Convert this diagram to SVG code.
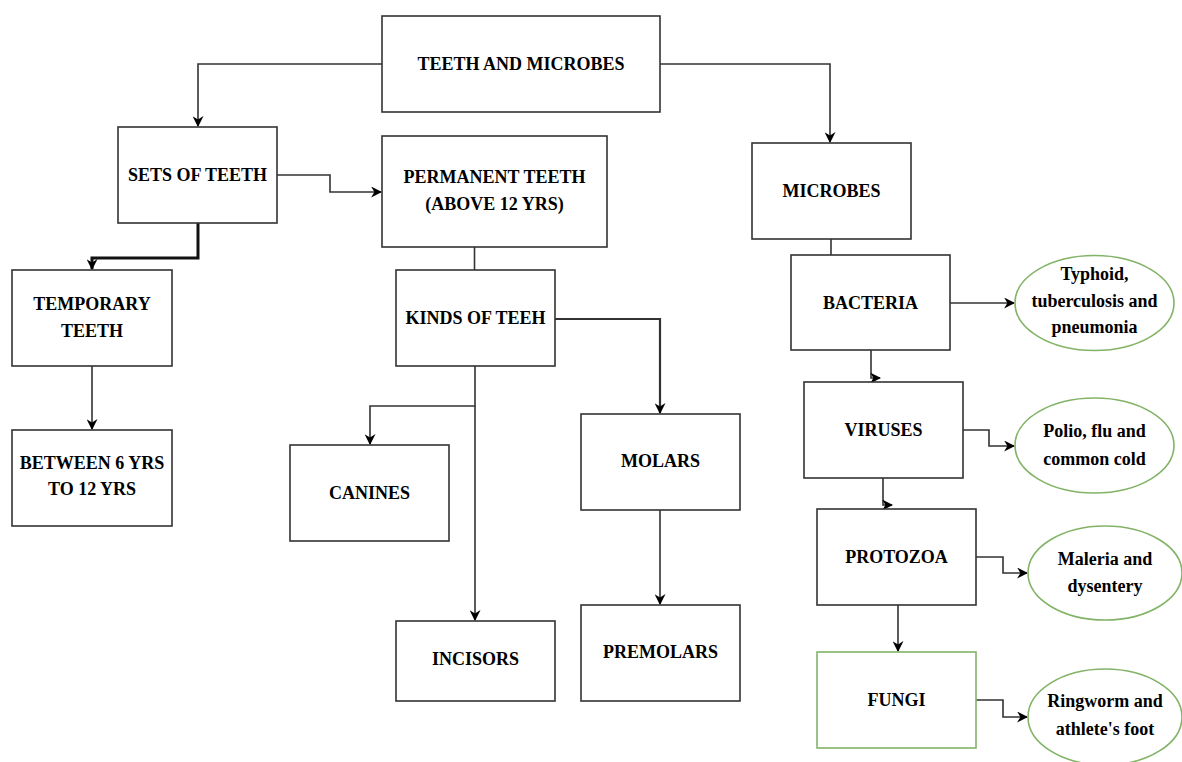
<svg xmlns="http://www.w3.org/2000/svg" width="1182" height="762" viewBox="0 0 1182 762">
<style>
.box{fill:#fff;stroke:#333;stroke-width:1.6}
.gbox{fill:#fff;stroke:#82b366;stroke-width:1.6}
.ell{fill:#fff;stroke:#82b366;stroke-width:1.6}
.t{font-family:"Liberation Serif","Times New Roman",serif;font-weight:bold;font-size:18px;fill:#000;text-anchor:middle}
.c{fill:none;stroke:#333;stroke-width:1.6}
</style>
<defs>
<marker id="a" viewBox="0 0 10 10" refX="9" refY="5" markerWidth="11" markerHeight="11" markerUnits="userSpaceOnUse" orient="auto">
<path d="M0,0 L10,5 L0,10 L3,5 z" fill="#000"/>
</marker>
</defs>
<rect width="1182" height="762" fill="#fff"/>
<g id="connectors">
<path class="c" d="M382,64 H198 V126" marker-end="url(#a)"/>
<path class="c" d="M660,64 H830 V142" marker-end="url(#a)"/>
<path class="c" d="M277,175 H330 V192 H381" marker-end="url(#a)"/>
<path class="c" d="M474.5,247 V270"/>
<path class="c" style="stroke-width:3;stroke:#111" d="M198,223 V258 H92 V269" marker-end="url(#a)"/>
<path class="c" d="M92,366 V429" marker-end="url(#a)"/>
<path class="c" d="M475,366 V406 H370 V444" marker-end="url(#a)"/>
<path class="c" d="M475,406 V620" marker-end="url(#a)"/>
<path class="c" style="stroke-width:2.2" d="M555,319 H660 V413" marker-end="url(#a)"/>
<path class="c" d="M660,510 V604" marker-end="url(#a)"/>
<path class="c" d="M831,239 V255"/>
<path class="c" d="M950,303 H1014" marker-end="url(#a)"/>
<path class="c" d="M871,350 V378 H880" marker-end="url(#a)"/>
<path class="c" d="M963,430 H989 V446 H1014" marker-end="url(#a)"/>
<path class="c" d="M883,478 V505 H892" marker-end="url(#a)"/>
<path class="c" d="M976,557 H1003 V573 H1027" marker-end="url(#a)"/>
<path class="c" d="M898,605 V651" marker-end="url(#a)"/>
<path class="c" d="M976,700 H1003 V717 H1027" marker-end="url(#a)"/>
</g>
<g id="n-teeth-microbes"><rect class="box" x="382" y="16" width="278" height="96"/><text class="t" x="521" y="70">TEETH AND MICROBES</text></g>
<g id="n-sets"><rect class="box" x="118" y="127" width="159" height="96"/><text class="t" x="197.5" y="181">SETS OF TEETH</text></g>
<g id="n-permanent"><rect class="box" x="382" y="136" width="225" height="111"/><text class="t" x="494.5" y="183">PERMANENT TEETH</text><text class="t" x="494.5" y="210">(ABOVE 12 YRS)</text></g>
<g id="n-microbes"><rect class="box" x="752" y="143" width="159" height="96"/><text class="t" x="831.5" y="197">MICROBES</text></g>
<g id="n-temporary"><rect class="box" x="12" y="270" width="160" height="96"/><text class="t" x="92" y="310">TEMPORARY</text><text class="t" x="92" y="337">TEETH</text></g>
<g id="n-kinds"><rect class="box" x="396" y="270" width="159" height="96"/><text class="t" x="475.5" y="324">KINDS OF TEEH</text></g>
<g id="n-between"><rect class="box" x="12" y="430" width="160" height="96"/><text class="t" x="92" y="469">BETWEEN 6 YRS</text><text class="t" x="92" y="495">TO 12 YRS</text></g>
<g id="n-canines"><rect class="box" x="290" y="445" width="159" height="96"/><text class="t" x="369.5" y="499">CANINES</text></g>
<g id="n-molars"><rect class="box" x="581" y="414" width="159" height="96"/><text class="t" x="660.5" y="467">MOLARS</text></g>
<g id="n-incisors"><rect class="box" x="396" y="621" width="159" height="80"/><text class="t" x="475.5" y="665">INCISORS</text></g>
<g id="n-premolars"><rect class="box" x="581" y="605" width="159" height="96"/><text class="t" x="660.5" y="658">PREMOLARS</text></g>
<g id="n-bacteria"><rect class="box" x="791" y="255" width="159" height="95"/><text class="t" x="870.5" y="309">BACTERIA</text></g>
<g id="n-viruses"><rect class="box" x="804" y="382" width="159" height="96"/><text class="t" x="883.5" y="436">VIRUSES</text></g>
<g id="n-protozoa"><rect class="box" x="817" y="509" width="159" height="96"/><text class="t" x="896.5" y="563">PROTOZOA</text></g>
<g id="n-fungi"><rect class="gbox" x="817" y="652" width="159" height="96"/><text class="t" x="896.5" y="706">FUNGI</text></g>
<g id="n-typhoid"><ellipse class="ell" cx="1094.5" cy="303" rx="79.5" ry="47.5"/><text class="t" x="1094.5" y="280">Typhoid,</text><text class="t" x="1094.5" y="307">tuberculosis and</text><text class="t" x="1094.5" y="333">pneumonia</text></g>
<g id="n-polio"><ellipse class="ell" cx="1094.5" cy="445.5" rx="79.5" ry="47.5"/><text class="t" x="1094.5" y="437">Polio, flu and</text><text class="t" x="1094.5" y="465">common cold</text></g>
<g id="n-maleria"><ellipse class="ell" cx="1105" cy="573" rx="77" ry="47"/><text class="t" x="1105" y="565">Maleria and</text><text class="t" x="1105" y="592">dysentery</text></g>
<g id="n-ringworm"><ellipse class="ell" cx="1105" cy="717" rx="77" ry="48"/><text class="t" x="1105" y="707">Ringworm and</text><text class="t" x="1105" y="735">athlete's foot</text></g>
</svg>
